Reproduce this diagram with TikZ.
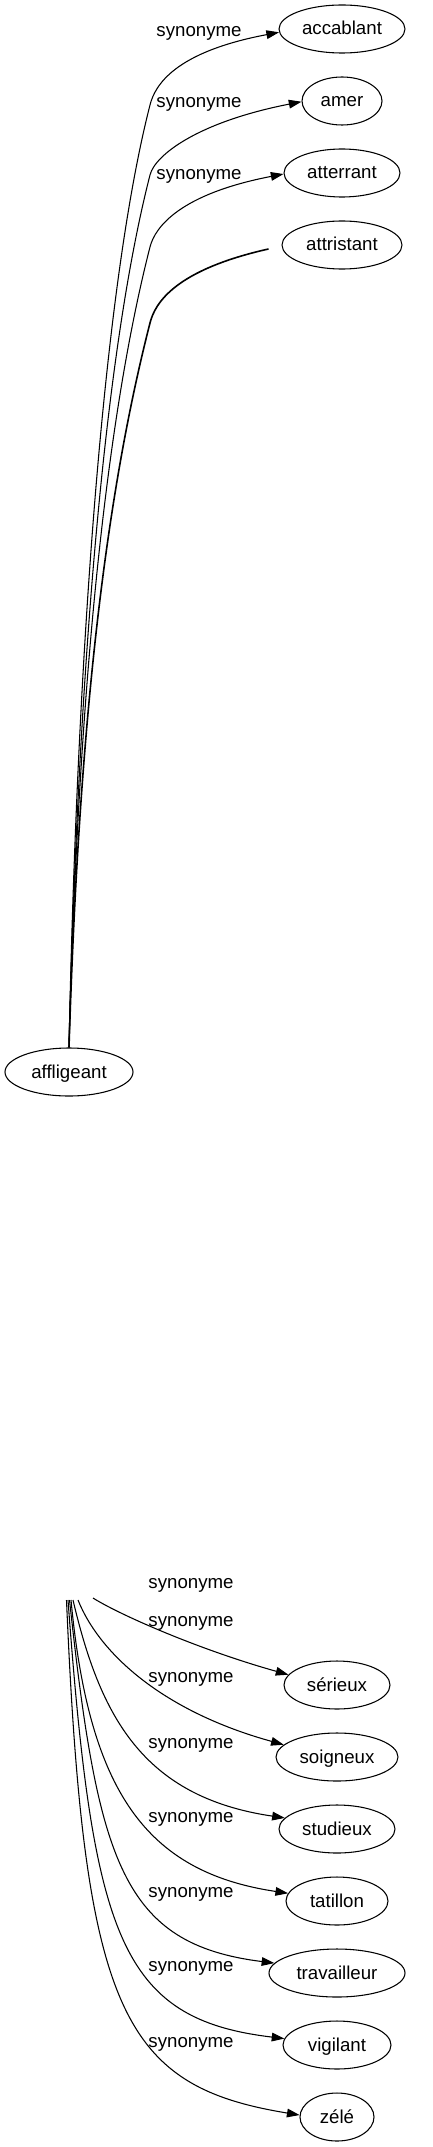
\documentclass[tikz,border=0pt]{standalone}
\usepackage{fontspec}
\setsansfont{Liberation Sans}
\usetikzlibrary{shapes.geometric,arrows.meta}

\begin{document}
\begin{tikzpicture}[x=0.75pt, y=-0.75pt, line width=0.8pt,
		word_style/.style={ellipse,draw=black,fill=white,inner sep=0pt,minimum height=36pt,
			font=\sffamily\fontsize{14pt}{16pt}\selectfont,text height=10.5pt,text depth=1.5pt},
		edge_style/.style={draw=black,-{Triangle[length=9.5pt,width=6.5pt]}},
		label_style/.style={anchor=base,font=\sffamily\fontsize{14pt}{16pt}\selectfont}]

		\useasboundingbox (0,0) rectangle (432,2147);

		\node[word_style,minimum width=94.5pt] (accablant) at (342,29) {accablant};
		\node[word_style,minimum width=60pt] (amer) at (342,101) {amer};
		\node[word_style,minimum width=87pt] (atterrant) at (342,173) {atterrant};
		\node[word_style,minimum width=90pt] (attristant) at (342,245) {attristant};
		\node[word_style,minimum width=96pt] (affligeant) at (69,1072) {affligeant};

		\node[word_style,minimum width=79.5pt] (serieux) at (337,1685) {sérieux};
		\node[word_style,minimum width=91.5pt] (soigneux) at (337,1757) {soigneux};
		\node[word_style,minimum width=87pt] (studieux) at (337,1829) {studieux};
		\node[word_style,minimum width=76.5pt] (tatillon) at (337,1901) {tatillon};
		\node[word_style,minimum width=102pt] (travailleur) at (337,1973) {travailleur};
		\node[word_style,minimum width=81pt] (vigilant) at (337,2045) {vigilant};
		\node[word_style,minimum width=55.5pt] (zele) at (337,2117) {zélé};

		% loose ends of the lower bundle
		\coordinate (from_serieux) at (93,1598);
		\coordinate (from_soigneux) at (78,1600);
		\coordinate (from_studieux) at (73,1600);
		\coordinate (from_tatillon) at (71,1600);
		\coordinate (from_travailleur) at (69.5,1600);
		\coordinate (from_vigilant) at (68,1600);
		\coordinate (from_zele) at (66.5,1600);

		\node[label_style] (l_accablant) at (199,37) {synonyme};
		\node[label_style] (l_amer) at (199,108) {synonyme};
		\node[label_style] (l_atterrant) at (199,180) {synonyme};

		\node[label_style] (l_top) at (191,1588) {synonyme};
		\node[label_style] (l_serieux) at (191,1626) {synonyme};
		\node[label_style] (l_soigneux) at (191,1682) {synonyme};
		\node[label_style] (l_studieux) at (191,1748) {synonyme};
		\node[label_style] (l_tatillon) at (191,1822) {synonyme};
		\node[label_style] (l_travailleur) at (191,1897) {synonyme};
		\node[label_style] (l_vigilant) at (191,1971) {synonyme};
		\node[label_style] (l_zele) at (191,2047) {synonyme};

		\draw[edge_style] (affligeant.north) .. controls (76,700) and (100,300) .. (150,105)
			.. controls (155,85) and (175,52) .. (accablant.183);
		\draw[edge_style] (affligeant.north) .. controls (77,720) and (100,370) .. (150,175)
			.. controls (155,155) and (198,122) .. (amer.181);
		\draw[edge_style] (affligeant.north) .. controls (77,740) and (100,442) .. (150,247)
			.. controls (155,227) and (180,194) .. (atterrant.181);
		\draw[line width=1.2pt, shorten >=10pt] (affligeant.north) .. controls (78,760) and (100,518) .. (150,323)
			.. controls (155,303) and (175,270) .. (attristant.181);

		\draw[edge_style] (from_serieux) .. controls (120,1615) and (200,1650) .. (serieux.168);
		\draw[edge_style] (from_soigneux) .. controls (100,1655) and (165,1712) .. (soigneux.167);
		\draw[edge_style] (from_studieux) .. controls (100,1715) and (142,1797) .. (studieux.168);
		\draw[edge_style] (from_tatillon) .. controls (89,1790) and (145,1872) .. (tatillon.171);
		\draw[edge_style] (from_travailleur) .. controls (98,1862) and (122,1944) .. (travailleur.171);
		\draw[edge_style] (from_vigilant) .. controls (93,1937) and (120,2019) .. (vigilant.173);
		\draw[edge_style] (from_zele) .. controls (84,2012) and (122,2086) .. (zele.177);

\end{tikzpicture}
\end{document}
